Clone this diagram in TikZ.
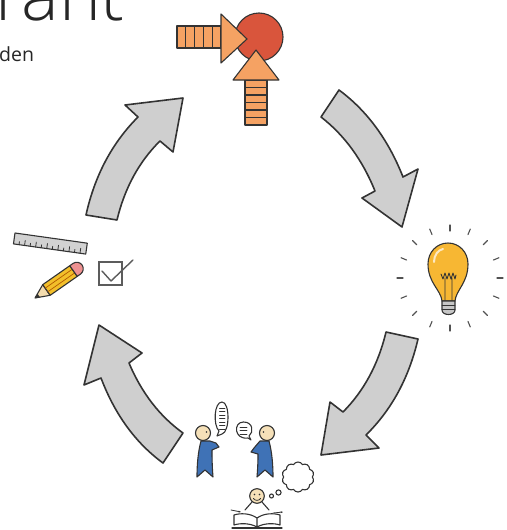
\documentclass[tikz,border=0pt]{standalone}
\usepackage{fontspec}
\setmainfont{Open Sans}
\newfontfamily\lightfont{Open Sans}[UprightFont={* Light}]
\usetikzlibrary{shapes.symbols,arrows.meta,calc}
\definecolor{outl}{HTML}{333333}
\definecolor{cyclegray}{HTML}{CFCFCF}
\definecolor{redc}{HTML}{D9553C}
\definecolor{orangec}{HTML}{F5A263}
\definecolor{bulbc}{HTML}{F7B733}
\definecolor{skin}{HTML}{F5E0B8}
\definecolor{robe}{HTML}{3F72B6}
\definecolor{pencily}{HTML}{F2BF2A}
\definecolor{eraser}{HTML}{EE9191}
\definecolor{wood}{HTML}{F4DCAE}
\tikzset{
  ink/.style={draw=outl, line width=1.1pt, line join=round, line cap=round},
  cyclearrow/.style={draw=outl, fill=cyclegray, line width=1.6pt, line join=round},
  ray/.style={draw=outl!85, line width=1.1pt, line cap=round},
  title/.style={anchor=base west, inner sep=0pt, text=black!85},
}
\begin{document}
\begin{tikzpicture}[x=1pt, y=-1pt]
\useasboundingbox (0,0) rectangle (506,530);

% heading text, partly outside the page
\node[title, font=\lightfont\fontsize{71}{71}\selectfont] (head) at (-5,20) {rant};
\node[title, font=\fontsize{19.5}{19.5}\selectfont] (sub) at (-1,61) {den};

% ---- four curved cycle arrows ----
\draw[cyclearrow] (86,215) .. controls (94.7,175.7) and (112,143) .. (138,117) -- (125,105) -- (183,98)
  -- (173,152) -- (160,141) .. controls (139,161.7) and (124.7,188) .. (117,220) -- cycle;
\draw[cyclearrow] (339,90) .. controls (367,110.7) and (388.3,139.7) .. (403,177) -- (418,169) -- (402,227)
  -- (362,198) -- (375,191) .. controls (362.3,159.7) and (344.3,135) .. (321,117) -- cycle;
\draw[cyclearrow] (418,339) .. controls (409,377.7) and (391.7,409.7) .. (366,435) -- (379,448) -- (321,455)
  -- (330,402) -- (343,412) .. controls (363.9,390.9) and (378.3,364.3) .. (386,332) -- cycle;
\draw[cyclearrow] (163,463) .. controls (135.5,442.9) and (114.9,414.5) .. (101,378) -- (84,385) -- (99,325)
  -- (142,353) -- (129,363) .. controls (141.7,393) and (159.7,416.3) .. (183,433) -- cycle;

% ---- top: target with two striped arrows ----
\coordinate (target) at (259,37);
\draw[ink, fill=redc] (target) circle (24);
\draw[ink, fill=orangec] (177,26) rectangle (221,48);
\foreach \x in {185.8,194.6,203.4,212.2} \draw[ink] (\x,26) -- (\x,48);
\draw[ink, fill=orangec] (221,14) -- (247,39) -- (221,63) -- cycle;
\draw[ink, fill=orangec] (245,80) rectangle (267,125);
\foreach \y in {87.5,95,102.5,110,117.5} \draw[ink] (245,\y) -- (267,\y);
\draw[ink, fill=orangec] (233,80) -- (256,50) -- (279,80) -- cycle;

% ---- right: light bulb ----
\coordinate (idea) at (450,278);
\foreach \a in {0,22.5,...,337.5}
  \draw[ray] ($(idea)+(\a:47)$) -- ($(idea)+(\a:53)$);
\draw[ink, fill=bulbc] (442,301) .. controls (441,290) and (428,283) .. (428,264)
  .. controls (428,252) and (437,243) .. (448,243)
  .. controls (459,243) and (468,252) .. (468,264)
  .. controls (468,283) and (456,290) .. (455,301) -- cycle;
\draw[white!70!bulbc, line width=2pt, line cap=round] (434,262) .. controls (434,255) and (438,250) .. (443,249);
\draw[ink, line width=0.9pt] (445,301) -- (445,278) (452,301) -- (452,278)
  (441,274) -- (443,279) -- (445,273) -- (447,279) -- (449,273) -- (451,279) -- (453,273) -- (455,279) -- (456,275);
\draw[ink, fill=gray!45] (442,301) -- (455,301) -- (455,310) .. controls (455,316) and (442,316) .. (442,310) -- cycle;
\draw[ink, line width=0.8pt] (442,305) -- (455,305) (442,309) -- (455,309);

% ---- left: ruler, pencil and ticked box ----
\begin{scope}[shift={(15,233)}, rotate=-8]
  \draw[ink, fill=gray!35] (0,0) rectangle (73,11);
  \foreach \i in {1,...,12}
    \draw[ink, line width=0.8pt] (\i*5.6,11) -- (\i*5.6,{ifthenelse(mod(\i,2)==0,6,8)});
\end{scope}
\begin{scope}[shift={(35,298)}, rotate=35]
  \draw[ink, fill=wood] (0,0) -- (14,-6.5) -- (14,6.5) -- cycle;
  \fill[outl] (0,0) -- (4.5,-2.1) -- (4.5,2.1) -- cycle;
  \draw[ink, fill=pencily] (14,-6.5) rectangle (47,6.5);
  \draw[orange!70!black, line width=0.7pt] (14,-2.2) -- (47,-2.2) (14,2.2) -- (47,2.2);
  \draw[ink, fill=eraser] (47,-6.5) -- (51,-6.5) arc (-90:90:6.5) -- (47,6.5) -- cycle;
\end{scope}
\coordinate (check) at (110,273);
\draw[draw=outl!80, line width=1.3pt] (99,262) rectangle (122,285);
\draw[draw=outl!80, line width=1.4pt, line join=round, line cap=round]
  (102,271) -- (111,281) -- (133,260);

% ---- bottom: talking people and a reader ----
\coordinate (talk) at (250,455);
% left speaker
\draw[ink, fill=robe] (201,441) .. controls (198,452) and (197,465) .. (197,477)
  -- (205,470) -- (213,477) .. controls (212,465) and (212,455) .. (212,450)
  -- (219,447) -- (216,443) -- (210,441) -- cycle;
\draw[ink, fill=skin] (203,433) circle (7.5);
\fill[outl] (206.5,432) circle (0.9);
% right speaker
\draw[ink, fill=robe] (269,441) .. controls (272,452) and (273,465) .. (273,477)
  -- (265,470) -- (257,477) .. controls (258,465) and (258,458) .. (258,454)
  -- (251,452) -- (254,448) -- (260,441) -- cycle;
\draw[ink, fill=skin] (267,433) circle (7.5);
\fill[outl] (263.5,432) circle (0.9);
% speech bubbles
\draw[ink, fill=white] (217,436) -- (219,431) .. controls (213,425) and (214,402) .. (222,402)
  .. controls (230,402) and (230,432) .. (222,434) -- cycle;
\foreach \y in {408,411.5,415,418.5,422,425.5,429}
  \draw[ink, line width=0.7pt] (219.5,\y) -- (225,\y);
\draw[ink, fill=white] (251,440) -- (248,438) .. controls (234,440) and (233,422) .. (243.5,422)
  .. controls (253,422) and (254,432) .. (249,436) -- cycle;
\foreach \y in {427,430.5,434}
  \draw[ink, line width=0.7pt] (240,\y) -- (247,\y);
% thought cloud
\node[cloud, cloud puffs=10, cloud puff arc=120, aspect=1.05, draw=outl, line width=1.1pt,
  fill=white, minimum width=32pt, minimum height=30pt, inner sep=0pt] (thought) at (298,477) {};
\draw[ink, fill=white] (271.5,496) circle (2) (278.5,492.5) circle (2.6);
% reader with an open book
\draw[ink] (252,502) -- (245,510) (262,502) -- (269,510);
\draw[ink, fill=skin] (257,496) circle (7.3);
\fill[outl] (254.5,494.5) circle (0.8) (259.5,494.5) circle (0.8);
\draw[ink, line width=0.8pt] (253.5,498.5) .. controls (255,501) and (259,501) .. (260.5,498.5);
\draw[ink, fill=white] (257,518) .. controls (250,513) and (240,513) .. (234,515) -- (234,525)
  .. controls (240,523) and (250,523) .. (257,527) .. controls (264,523) and (274,523) .. (280,525)
  -- (280,515) .. controls (274,513) and (264,513) .. (257,518) -- (257,527);
\draw[ink] (232,528) -- (282,528);
\draw[ink, line width=0.8pt, -{Stealth[length=2.5pt]}] (231,510) -- (241,512);
\draw[ink, line width=0.8pt, -{Stealth[length=2.5pt]}] (273,513) -- (283,512);
\end{tikzpicture}
\end{document}
